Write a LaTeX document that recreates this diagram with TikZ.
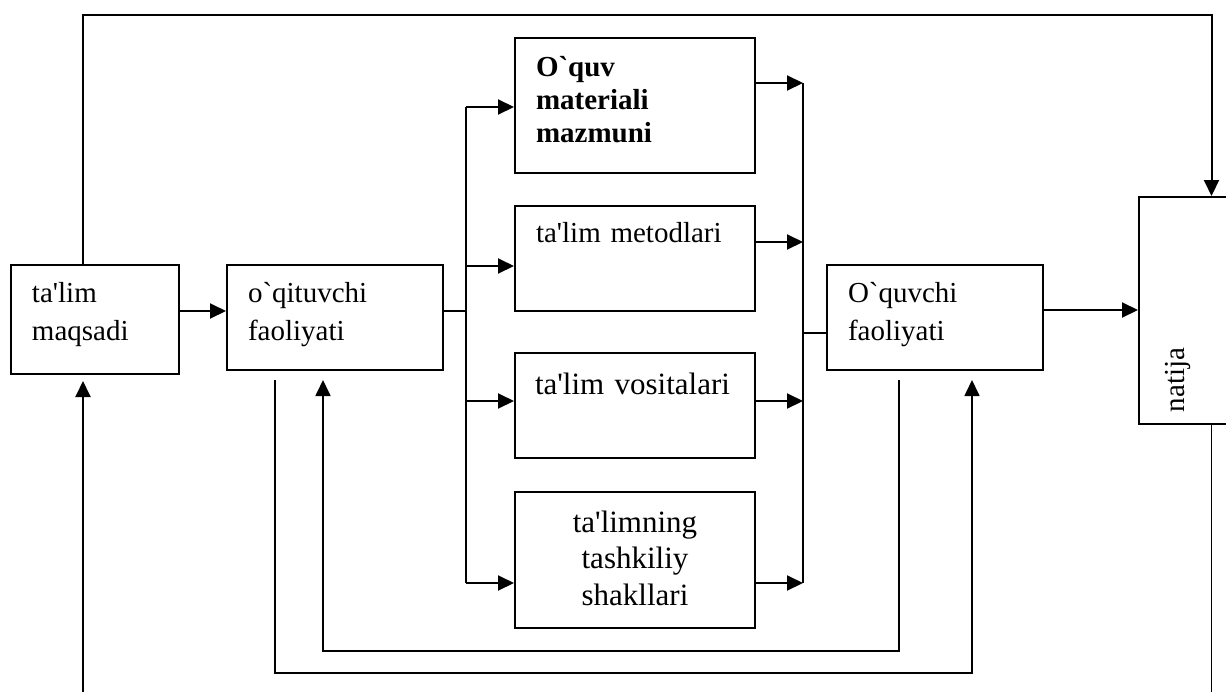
\documentclass[tikz,border=0pt]{standalone}
\usepackage{fontspec}
\setmainfont{Liberation Serif}[Ligatures=TeXOff]
\usetikzlibrary{arrows.meta}

\begin{document}
\begin{tikzpicture}[x=0.5pt,y=-0.5pt,
    >={Triangle[length=8pt,width=7.5pt]},
    blk/.style={draw,line width=1pt,inner sep=0pt,align=left,
      font=\fontsize{14.5}{19}\selectfont,text height=10pt},
    arr/.style={->,line width=1pt},
    ln/.style={line width=0.75pt}]
  \useasboundingbox (0,0) rectangle (1226,691);

  \node[blk,minimum width=84pt,minimum height=54.5pt,text width=63pt,text depth=27.5pt] (maqsad) at (95,319.5) {ta'lim\\maqsadi};
  \node[blk,minimum width=108pt,minimum height=52.5pt,text width=87pt,text depth=25.5pt] (oqit) at (335,317.5) {o`qituvchi\\faoliyati};
  \node[blk,minimum width=120pt,minimum height=67.5pt,text width=99pt,text depth=39.5pt,
    font=\fontsize{14.5}{16.5}\selectfont\bfseries] (mazmun) at (635,105.5) {O`quv\\materiali\\mazmuni};
  \node[blk,minimum width=120pt,minimum height=52.5pt,text width=99pt,text depth=26.5pt] (metod) at (635,258.5) {ta'lim metodlari};
  \node[blk,minimum width=120pt,minimum height=52.5pt,text width=100pt,text height=11pt,text depth=22.5pt,
    font=\fontsize{15.5}{19}\selectfont] (vosita) at (635,405.5) {\mbox{ta'lim vositalari}};
  \node[blk,align=center,minimum width=120pt,minimum height=68pt,text width=99pt,text height=11pt,text depth=39pt,
    font=\fontsize{15.5}{18.25}\selectfont] (shakl) at (635,560) {ta'limning\\tashkiliy\\shakllari};
  \node[blk,minimum width=108pt,minimum height=52.5pt,text width=87pt,text depth=25.5pt] (oquvchi) at (935,317.5) {O`quvchi\\faoliyati};
  \node[draw,line width=1pt,minimum width=72.5pt,minimum height=113.5pt] (natija) at (1211.5,310.5) {};
  \node[rotate=90,font=\fontsize{14.5}{19}\selectfont] (natijaTxt) at (1178,380) {natija};

  \coordinate (top) at (83,15);
  \coordinate (busL) at (466,0);
  \coordinate (busR) at (803,0);
  \coordinate (loopA) at (0,673);
  \coordinate (loopB) at (0,651);
  \coordinate (goalIn) at (83,700);
  \coordinate (resOut) at (1212,700);

  % goal straight to the result
  \draw[arr] (maqsad.north -| top) -- (top) -- (top -| natija.north) -- (natija.north);

  \path ([yshift=4.25pt]maqsad.east) coordinate (m-out)
        ([yshift=-3pt]maqsad.south) coordinate (m-in)
        ([yshift=3.25pt]oqit.east) coordinate (o-out)
        ([yshift=-7.75pt]oquvchi.west) coordinate (q-in)
        ([yshift=3.75pt]oquvchi.east) coordinate (q-out);
  \draw[arr] (m-out) -- (m-out -| oqit.west);
  \draw[ln] (o-out) -- (o-out -| busL);

  \foreach \b/\i/\o in {mazmun/-0.75pt/11.25pt, metod/-3.75pt/8.25pt, vosita/2.25pt/2.25pt, shakl/-11.5pt/-11.5pt}{
    \path ([yshift=\i]\b.west) coordinate (\b-in) ([yshift=\o]\b.east) coordinate (\b-out);
    \draw[arr] (\b-in -| busL) -- (\b-in);
    \draw[arr] (\b-out) -- (\b-out -| busR);
  }
  \draw[ln] (mazmun-in -| busL) -- (shakl-in -| busL);
  \draw[ln] (mazmun-out -| busR) -- (shakl-out -| busR);
  \draw[ln] (q-in -| busR) -- (q-in);
  \draw[arr] (q-out) -- (q-out -| natija.west);

  % feedback loops
  \path ([xshift=-30pt,yshift=-4.5pt]oqit.south) coordinate (fbA1)
        ([xshift=18.5pt,yshift=-4.5pt]oquvchi.south) coordinate (fbA2)
        ([xshift=-18pt,yshift=-4.5pt]oquvchi.south) coordinate (fbB1)
        ([xshift=-6pt,yshift=-4.5pt]oqit.south) coordinate (fbB2);
  \draw[->,line width=0.85pt] (fbA1) -- (fbA1 |- loopA) -| (fbA2);
  \draw[->,line width=0.85pt] (fbB1) -- (fbB1 |- loopB) -| (fbB2);

  \draw[arr] (goalIn) -- (goalIn |- m-in);
  \draw[ln] (natija.south) -- (natija.south |- resOut);
\end{tikzpicture}
\end{document}
